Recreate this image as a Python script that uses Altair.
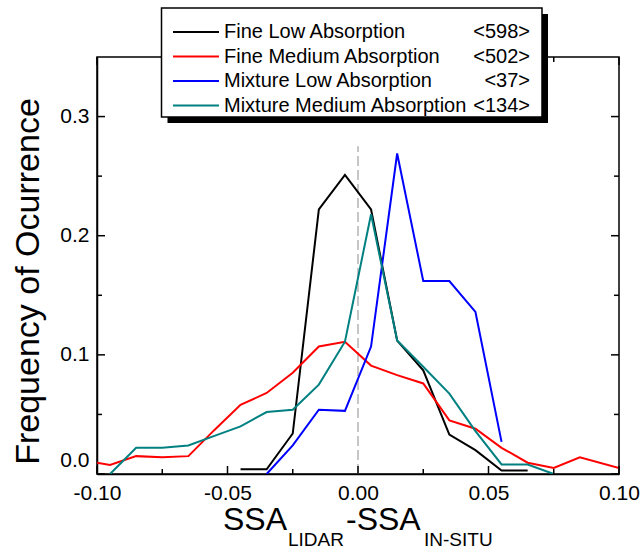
import altair as alt
import pandas as pd

# Frequency of occurrence of SSA(lidar) - SSA(in situ), per aerosol class
fine_low_x = [-0.045, -0.035, -0.025, -0.015, -0.005, 0.005, 0.015, 0.025, 0.035, 0.045, 0.055, 0.065]
fine_low_y = [0.004, 0.004, 0.034, 0.222, 0.251, 0.222, 0.112, 0.087, 0.033, 0.020, 0.003, 0.003]

fine_med_x = [-0.100, -0.095, -0.085, -0.075, -0.065, -0.055, -0.045, -0.035, -0.025, -0.015,
              -0.005, 0.005, 0.015, 0.025, 0.035, 0.045, 0.055, 0.065, 0.075, 0.085, 0.100]
fine_med_y = [0.0095, 0.0075, 0.015, 0.014, 0.015, 0.037, 0.058, 0.068, 0.085, 0.107,
              0.111, 0.091, 0.083, 0.076, 0.045, 0.038, 0.022, 0.0095, 0.005, 0.014, 0.005]

mix_low_x = [-0.035, -0.025, -0.015, -0.005, 0.005, 0.015, 0.025, 0.035, 0.045, 0.055]
mix_low_y = [0.0, 0.024, 0.054, 0.053, 0.107, 0.269, 0.162, 0.162, 0.136, 0.027]

mix_med_x = [-0.095, -0.085, -0.075, -0.065, -0.055, -0.045, -0.035, -0.025, -0.015, -0.005,
             0.005, 0.015, 0.025, 0.035, 0.045, 0.055, 0.065, 0.075]
mix_med_y = [0.0, 0.022, 0.022, 0.024, 0.032, 0.040, 0.052, 0.054, 0.075, 0.111,
             0.218, 0.112, 0.090, 0.0675, 0.036, 0.008, 0.008, 0.0]

series_names = ["Fine Low Absorption", "Fine Medium Absorption",
                "Mixture Low Absorption", "Mixture Medium Absorption"]
series_counts = ["<598>", "<502>", "<37>", "<134>"]
series_colors = ["#000000", "#ff0000", "#0000ff", "#008080"]

x_major = [-0.10, -0.05, 0.0, 0.05, 0.10]
x_minor = [-0.075, -0.025, 0.025, 0.075]
y_major = [0.0, 0.1, 0.2, 0.3]
y_minor = [0.05, 0.15, 0.25]

W, H = 522, 417
FONT = "Liberation Sans"

rows = []
for name, xs, ys in zip(series_names,
                        [fine_low_x, fine_med_x, mix_low_x, mix_med_x],
                        [fine_low_y, fine_med_y, mix_low_y, mix_med_y]):
    for i, (xv, yv) in enumerate(zip(xs, ys)):
        rows.append({"series": name, "x": xv, "y": yv, "order": i})
df = pd.DataFrame(rows)

x_scale = alt.Scale(domain=[-0.1, 0.1], nice=False, zero=False)
y_scale = alt.Scale(domain=[0, 0.35], nice=False)

x_axis = alt.Axis(values=x_major, ticks=False, grid=False, labelFlush=False,
                  labelExpr="replace(format(datum.value, '.2f'), '\u2212', '-')",
                  labelFont=FONT, labelFontSize=21, labelColor="black",
                  labelPadding=8, domainColor="black", domainWidth=1.5,
                  title=None)
y_axis = alt.Axis(values=y_major, ticks=False, grid=False, format=".1f",
                  labelFont=FONT, labelFontSize=21, labelColor="black",
                  labelPadding=8, labelFlush=True, labelFlushOffset=-4,
                  domainColor="black", domainWidth=1.5,
                  title="Frequency of Ocurrence", titleFont=FONT,
                  titleFontSize=34, titleFontWeight="normal", titleColor="black",
                  titleAngle=270, titleAlign="center", titleBaseline="middle",
                  titleX=-69, titleY=224)

lines = alt.Chart(df).mark_line(strokeWidth=2, clip=True).encode(
    x=alt.X("x:Q", scale=x_scale, axis=x_axis),
    y=alt.Y("y:Q", scale=y_scale, axis=y_axis),
    color=alt.Color("series:N", scale=alt.Scale(domain=series_names, range=series_colors),
                    legend=None),
    detail="series:N",
    order="order:Q",
)

zero_line = alt.Chart(pd.DataFrame({"x": [0.0], "y0": [0.0], "y1": [0.275]})).mark_rule(
    color="#b4b4b4", strokeWidth=1.5, strokeDash=[10, 4]
).encode(
    x=alt.X("x:Q", scale=x_scale, axis=x_axis),
    y=alt.Y("y0:Q", scale=y_scale, axis=y_axis),
    y2="y1:Q",
)


def x_ticks(vals, length):
    base = alt.Chart(pd.DataFrame({"x": vals})).mark_rule(color="black", strokeWidth=1.5)
    enc = dict(x=alt.X("x:Q", scale=x_scale, axis=x_axis))
    bottom = base.encode(y=alt.value(H), y2=alt.value(H - length), **enc)
    top = base.encode(y=alt.value(0), y2=alt.value(length), **enc)
    return [bottom, top]


def y_ticks(vals, length):
    base = alt.Chart(pd.DataFrame({"y": vals})).mark_rule(color="black", strokeWidth=1.5)
    enc = dict(y=alt.Y("y:Q", scale=y_scale, axis=y_axis))
    left = base.encode(x=alt.value(0), x2=alt.value(length), **enc)
    right = base.encode(x=alt.value(W), x2=alt.value(W - length), **enc)
    return [left, right]


ticks = x_ticks(x_major, 8) + x_ticks(x_minor, 5) + y_ticks(y_major, 8) + y_ticks(y_minor, 5)

# Legend box with drop shadow, drawn over the top frame
LX0, LX1, LY0, LY1 = 64.5, 445, -49, 60
legend_layers = [
    alt.Chart().mark_rect(fill="black").encode(
        x=alt.value(LX0 + 6), x2=alt.value(LX1 + 6), y=alt.value(LY0 + 6), y2=alt.value(LY1 + 6)),
    alt.Chart().mark_rect(fill="white", stroke="black", strokeWidth=1.5).encode(
        x=alt.value(LX0), x2=alt.value(LX1), y=alt.value(LY0), y2=alt.value(LY1)),
]
for i, (name, count, col) in enumerate(zip(series_names, series_counts, series_colors)):
    ry = -25 + i * 24.5
    legend_layers.append(
        alt.Chart().mark_rule(color=col, strokeWidth=2).encode(
            x=alt.value(76), x2=alt.value(122), y=alt.value(ry)))
    legend_layers.append(
        alt.Chart().mark_text(text=name, font=FONT, fontSize=20, align="left",
                              baseline="middle", color="black").encode(
            x=alt.value(127), y=alt.value(ry)))
    legend_layers.append(
        alt.Chart().mark_text(text=count, font=FONT, fontSize=20, align="right",
                              baseline="middle", color="black").encode(
            x=alt.value(433), y=alt.value(ry)))

# x-axis title with subscripts
title_parts = [("SSA", 32, 126, 473), ("LIDAR", 19, 191, 489),
               ("-SSA", 32, 249, 473), ("IN-SITU", 19, 327, 489)]
title_layers = [
    alt.Chart().mark_text(text=t, font=FONT, fontSize=fs, align="left",
                          baseline="alphabetic", color="black").encode(
        x=alt.value(px), y=alt.value(py))
    for t, fs, px, py in title_parts
]

chart = alt.layer(
    zero_line, lines, *ticks, *legend_layers, *title_layers
).properties(
    width=W, height=H,
    autosize=alt.AutoSizeParams(type="none"),
    padding={"left": 97, "top": 57, "right": 22, "bottom": 79},
    background="white",
).configure_view(stroke="black", strokeWidth=1.5)

chart.save("out.html", embed_options={"renderer": "svg", "actions": False})
